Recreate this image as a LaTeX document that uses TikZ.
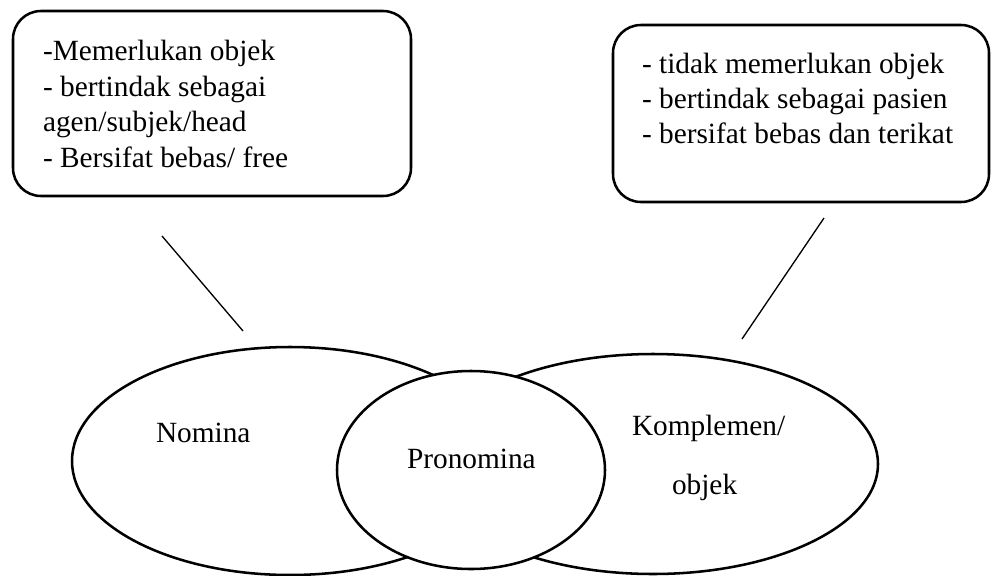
\documentclass[tikz,border=0pt]{standalone}
\usepackage{fontspec}
\setmainfont{Liberation Serif}
\usetikzlibrary{shapes.geometric}
\begin{document}
\begin{tikzpicture}[x=0.75pt,y=-0.75pt,
  every node/.style={font=\fontsize{22}{27}\selectfont, inner sep=0pt, outer sep=0pt},
  txt/.style={anchor=base west},
  notebox/.style={draw, line width=1.9pt, rounded corners=21pt, rectangle},
  set/.style={draw, ellipse, line width=1.9pt, fill=white},
  link/.style={line width=1pt}]
\useasboundingbox (0,0) rectangle (992,575);

% property boxes
\node[notebox, minimum width=298.5pt, minimum height=138.75pt] (boxL) at (212,103.5) {};
\node[notebox, minimum width=282pt, minimum height=132.75pt] (boxR) at (801,113.5) {};

\node[txt] (l1) at (43,60)  {-Memerlukan objek};
\node[txt] (l2) at (43,96)  {- bertindak sebagai};
\node[txt] (l3) at (43,131) {agen/subjek/head};
\node[txt] (l4) at (43,167) {- Bersifat bebas/ free};

\node[txt] (r1) at (642,73)  {- tidak memerlukan objek};
\node[txt] (r2) at (642,108) {- bertindak sebagai pasien};
\node[txt] (r3) at (642,143) {- bersifat bebas dan terikat};

% overlapping sets
\node[set, minimum width=327pt, minimum height=171pt] (nom) at (290,461) {};
\node[set, minimum width=337.5pt, minimum height=165pt] (komp) at (653,464) {};
\node[set, minimum width=201pt, minimum height=148.5pt] (pron) at (471,470) {};

\node[txt] (tnom)  at (156,442) {Nomina};
\node[txt] (tpron) at (407,468) {Pronomina};
\node[txt] (tkomp) at (632,435) {Komplemen/};
\node[txt] (tobj)  at (672,494) {objek};

% connectors between boxes and sets
\coordinate (la) at (162,236);
\coordinate (lb) at (243,331);
\coordinate (ra) at (824,218);
\coordinate (rb) at (742,339);
\draw[link] (la) -- (lb);
\draw[link] (ra) -- (rb);
\end{tikzpicture}
\end{document}
